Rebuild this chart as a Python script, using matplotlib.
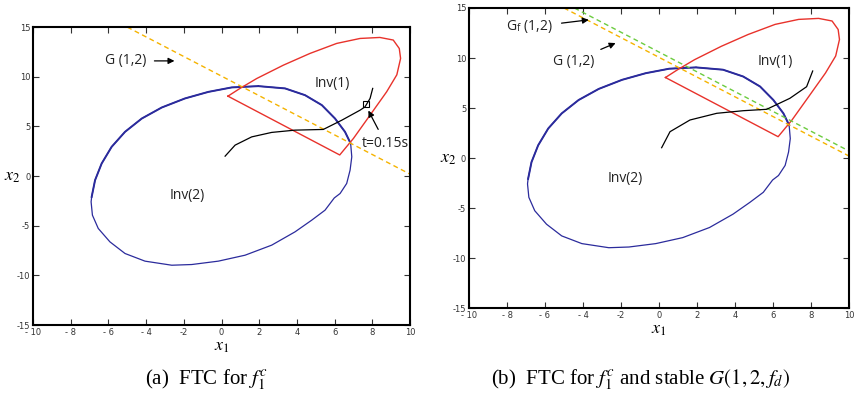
import matplotlib
matplotlib.use("agg")
import matplotlib.pyplot as plt

# invariant set Inv(2): blue closed curve (clockwise from the top)
inv2_x = [1.95, 3.37, 4.43, 5.32, 6.02, 6.55, 6.85, 6.91, 6.82, 6.64, 6.29, 5.98, 5.49,
          4.78, 3.9, 2.66, 1.25, -0.17, -1.58, -2.64, -4.06, -5.12, -5.92, -6.54, -6.85,
          -6.92, -6.89, -6.71, -6.36, -5.83, -5.12, -4.23, -3.17, -1.94, -0.7, 0.54, 1.95]
inv2_y = [9.06, 8.83, 8.15, 7.15, 5.8, 4.46, 3.29, 1.94, 0.6, -0.74, -1.75, -2.2, -3.43,
          -4.44, -5.61, -6.95, -7.96, -8.56, -8.9, -8.97, -8.56, -7.79, -6.62, -5.27, -3.93,
          -2.59, -2.09, -0.41, 1.27, 2.95, 4.46, 5.8, 6.91, 7.82, 8.48, 8.93, 9.06]

# invariant set Inv(1): red closed region
inv1_x = [0.34, 6.27, 7.0, 7.88, 8.76, 9.3, 9.5, 9.43, 9.11, 8.4, 7.35, 6.11, 4.69, 3.28,
          1.87, 0.98, 0.34]
inv1_y = [8.05, 2.13, 3.8, 6.14, 8.49, 10.2, 11.85, 12.85, 13.7, 13.96, 13.86, 13.36,
          12.35, 11.17, 9.83, 8.83, 8.05]

# trajectories
traj_a_x = [0.19, 0.72, 1.6, 2.66, 3.9, 5.4, 6.38, 7.35, 7.61, 7.88, 8.02]
traj_a_y = [2.01, 3.12, 3.95, 4.4, 4.63, 4.7, 5.63, 6.64, 6.97, 7.82, 8.83]
traj_b_x = [0.14, 0.58, 1.63, 3.04, 4.44, 5.67, 6.89, 7.77, 8.09]
traj_b_y = [1.03, 2.63, 3.8, 4.47, 4.73, 4.87, 5.97, 7.13, 8.7]
switch_pt = (7.65, 7.25)

# guard lines
g_x = [-5.0, 10.0]
g_y = [15.0, 0.2]
gf_x = [-4.45, 10.0]
gf_y = [15.0, 0.7]

x_ticks = list(range(-10, 11, 2))
y_ticks = list(range(-15, 16, 5))

RED = "#e8322b"
BLUE = "#2b2b9c"
ORANGE = "#f5b300"
GREEN = "#6ccc3f"

plt.rcParams["axes.unicode_minus"] = False
plt.rcParams["mathtext.fontset"] = "stix"

fig = plt.figure(figsize=(8.56, 3.96), dpi=100)
ax_a = fig.add_axes([0.0386, 0.179, 0.4404, 0.7525])
ax_b = fig.add_axes([0.5479, 0.2222, 0.4439, 0.7576])

lab = dict(fontsize=10, family="Open Sans", color="#222222")
arr = dict(arrowstyle="-|>", color="black", lw=0.9, mutation_scale=9)

# upper arc of Inv(2) is drawn heavier in the original
upper = list(range(26, 37)) + list(range(1, 7))


def base(ax):
    ax.plot(inv2_x, inv2_y, color=BLUE, lw=0.9)
    ax.plot([inv2_x[i] for i in upper], [inv2_y[i] for i in upper], color=BLUE, lw=1.4)
    ax.plot(inv1_x, inv1_y, color=RED, lw=1.0)
    ax.set_xlim(-10, 10)
    ax.set_ylim(-15, 15)
    ax.set_xticks(x_ticks)
    ax.set_yticks(y_ticks)
    ax.set_xticklabels([str(t).replace("-", "- ") if t != -2 else "-2" for t in x_ticks])
    ax.tick_params(direction="in", top=True, right=True, length=4, width=0.8,
                   labelsize=6, pad=2, colors="#333333")
    for s in ax.spines.values():
        s.set_linewidth(1.5)
    ax.set_xlabel("$x_1$", fontsize=13, labelpad=0)
    ax.set_ylabel("$x_2$", fontsize=13, rotation=0, labelpad=3, va="center")
    ax.text(-1.8, -2.0, "Inv(2)", ha="center", va="center", **lab)


# (a)
base(ax_a)
ax_a.plot(g_x, g_y, color=ORANGE, lw=1.0, ls=(0, (3.5, 2.5)))
ax_a.plot(traj_a_x, traj_a_y, color="black", lw=0.9)
ax_a.plot(*switch_pt, marker="s", mfc="none", mec="black", ms=5, mew=0.8)
ax_a.text(5.9, 9.33, "Inv(1)", ha="center", va="center", **lab)
ax_a.annotate("G (1,2)", xy=(-2.35, 11.6), xytext=(-5.1, 11.6), ha="center", va="center",
              arrowprops=dict(arr, shrinkA=4), **lab)
ax_a.annotate("t=0.15s", xy=(7.72, 6.85), xytext=(8.7, 3.3), ha="center", va="center",
              arrowprops=dict(arr, shrinkA=3), **lab)
fig.text(0.2415, 0.04, r"(a)  FTC for $f_1^c$", ha="center", va="center",
         fontsize=15, family="Liberation Serif")

# (b)
base(ax_b)
ax_b.plot(g_x, g_y, color=ORANGE, lw=1.0, ls=(0, (3.5, 2.5)))
ax_b.plot(gf_x, gf_y, color=GREEN, lw=1.0, ls=(0, (3.5, 2.5)))
ax_b.plot(traj_b_x, traj_b_y, color="black", lw=0.9)
ax_b.text(6.1, 9.7, "Inv(1)", ha="center", va="center", **lab)
ax_b.annotate(r"G$_\mathregular{f}$ (1,2)", xy=(-3.55, 13.85), xytext=(-6.8, 13.1),
              ha="center", va="center", arrowprops=dict(arr, shrinkA=4), **lab)
ax_b.annotate("G (1,2)", xy=(-2.15, 11.6), xytext=(-4.5, 9.7), ha="center", va="center",
              arrowprops=dict(arr, shrinkA=3), **lab)
fig.text(0.7485, 0.04, r"(b)  FTC for $f_1^c$ and stable $G(1,2,f_d)$", ha="center",
         va="center", fontsize=15, family="Liberation Serif")

fig.savefig("out.png", dpi=100)
plt.close(fig)
